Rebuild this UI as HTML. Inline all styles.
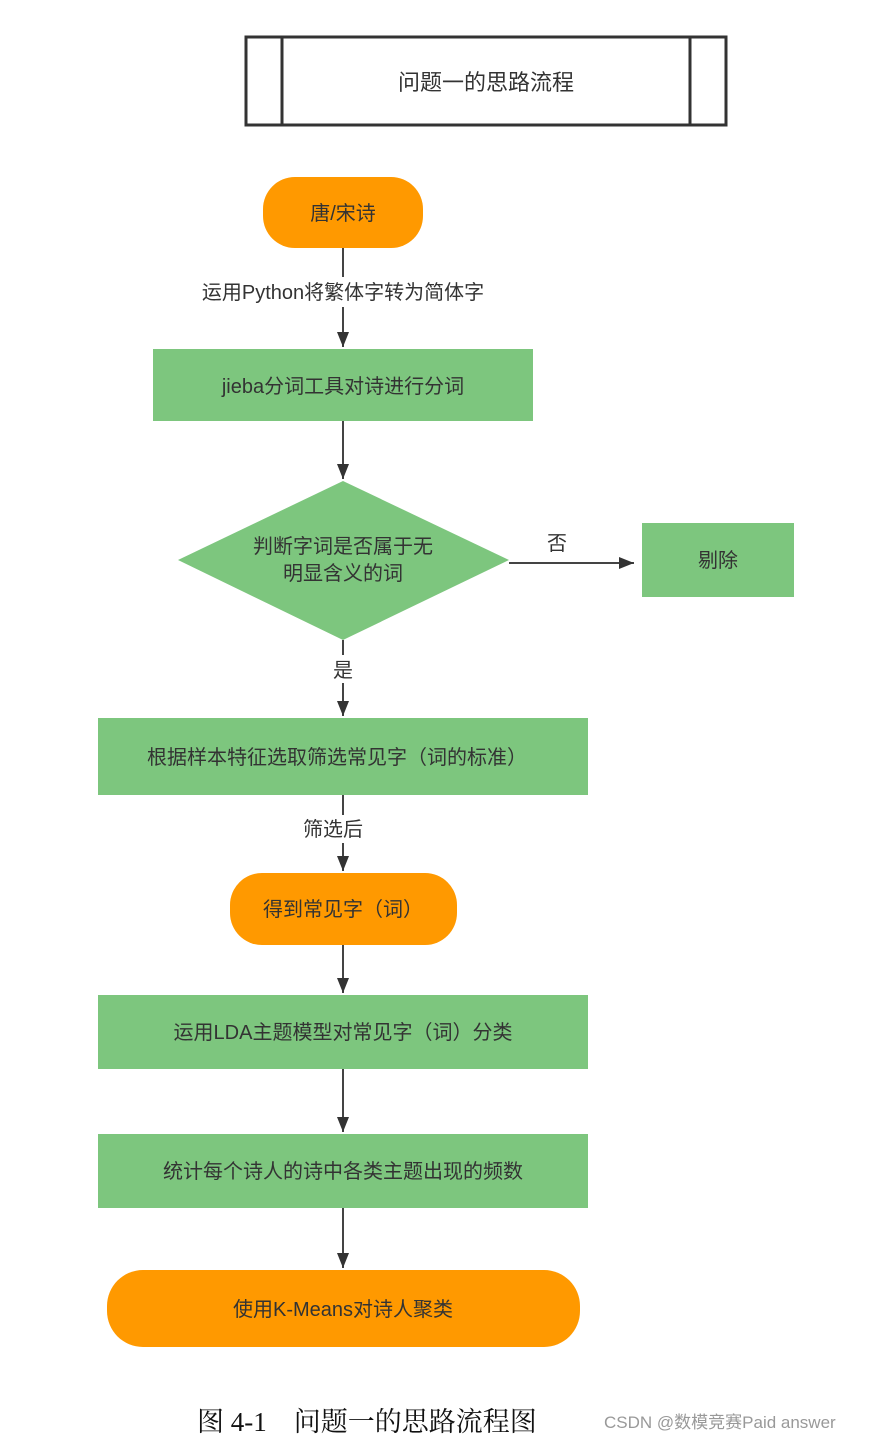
<!DOCTYPE html>
<html><head><meta charset="utf-8"><style>
body{margin:0;background:#fff;width:878px;height:1441px;overflow:hidden;position:relative;font-family:"Liberation Sans","Noto Sans CJK SC",sans-serif;}
</style></head><body>
<svg width="878" height="1441" viewBox="0 0 878 1441" xmlns="http://www.w3.org/2000/svg" style="position:absolute;left:0;top:0">
<defs><marker id="a" markerWidth="10" markerHeight="10" refX="9" refY="5" orient="auto" markerUnits="userSpaceOnUse"><path d="M0,0 L10,5 L0,10 Z" fill="#333"/></marker>
<marker id="b" markerWidth="16" markerHeight="16" refX="15" refY="8" orient="auto" markerUnits="userSpaceOnUse"><path d="M0,2 L15,8 L0,14 Z" fill="#333"/></marker></defs>
<g font-family="Liberation Sans, Noto Sans CJK SC, sans-serif" font-size="20" fill="#333" text-anchor="middle">
<rect x="246" y="37" width="480" height="88" fill="#fff" stroke="#333" stroke-width="3"/>
<line x1="282" y1="37" x2="282" y2="125" stroke="#333" stroke-width="3"/>
<line x1="690" y1="37" x2="690" y2="125" stroke="#333" stroke-width="3"/>
<text x="486" y="90" font-size="22">问题一的思路流程</text>

<g stroke="#444" stroke-width="2" fill="none">
<line x1="343" y1="248" x2="343" y2="347" marker-end="url(#b)"/>
<line x1="343" y1="421" x2="343" y2="479" marker-end="url(#b)"/>
<line x1="509" y1="563" x2="634" y2="563" marker-end="url(#b)"/>
<line x1="343" y1="640" x2="343" y2="716" marker-end="url(#b)"/>
<line x1="343" y1="795" x2="343" y2="871" marker-end="url(#b)"/>
<line x1="343" y1="945" x2="343" y2="993" marker-end="url(#b)"/>
<line x1="343" y1="1069" x2="343" y2="1132" marker-end="url(#b)"/>
<line x1="343" y1="1208" x2="343" y2="1268" marker-end="url(#b)"/>
</g>
<rect x="172" y="277" width="342" height="30" fill="#fff"/>
<text x="343" y="299">运用Python将繁体字转为简体字</text>
<text x="557" y="550">否</text>
<rect x="330" y="655" width="26" height="28" fill="#fff"/>
<text x="343" y="677">是</text>
<rect x="296" y="815" width="74" height="28" fill="#fff"/>
<text x="333" y="836">筛选后</text>

<rect x="263" y="177" width="160" height="71" rx="32" fill="#FF9900"/>
<text x="343" y="220">唐/宋诗</text>
<rect x="153" y="349" width="380" height="72" fill="#7DC67E"/>
<text x="343" y="393">jieba分词工具对诗进行分词</text>
<polygon points="343,481 509,560 343,640 178,560" fill="#7DC67E"/>
<text x="343" y="553">判断字词是否属于无</text>
<text x="343" y="580">明显含义的词</text>
<rect x="642" y="523" width="152" height="74" fill="#7DC67E"/>
<text x="718" y="567">剔除</text>
<rect x="98" y="718" width="490" height="77" fill="#7DC67E"/>
<text x="337" y="764">根据样本特征选取筛选常见字（词的标准）</text>
<rect x="230" y="873" width="227" height="72" rx="32" fill="#FF9900"/>
<text x="343" y="916">得到常见字（词）</text>
<rect x="98" y="995" width="490" height="74" fill="#7DC67E"/>
<text x="343" y="1039">运用LDA主题模型对常见字（词）分类</text>
<rect x="98" y="1134" width="490" height="74" fill="#7DC67E"/>
<text x="343" y="1178">统计每个诗人的诗中各类主题出现的频数</text>
<rect x="107" y="1270" width="473" height="77" rx="36" fill="#FF9900"/>
<text x="343" y="1316">使用K-Means对诗人聚类</text>
</g>
<text x="197" y="1431" font-family="Liberation Serif, Noto Serif CJK SC, serif" font-size="27" fill="#111">图 4-1　问题一的思路流程图</text>
<text x="604" y="1428" font-family="Liberation Sans, Noto Sans CJK SC, sans-serif" font-size="17" fill="#999">CSDN @数模竞赛Paid answer</text>
</svg>
</body></html>
